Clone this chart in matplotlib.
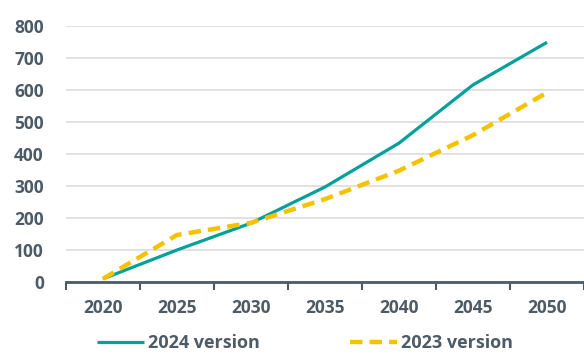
import numpy as np
import matplotlib
matplotlib.use("Agg")
import matplotlib.pyplot as plt

plt.rcParams['font.family'] = ['Open Sans', 'DejaVu Sans']

years = ['2020', '2025', '2030', '2035', '2040', '2045', '2050']
v2024 = [10, 100, 184, 297, 434, 616, 749]
v2023 = [10, 147, 185, 259, 348, 459, 592]

txt = '#4d5b66'
fig = plt.figure(figsize=(5.84, 3.54), dpi=100)
ax = fig.add_axes([66/584, 72/354, 518/584, 256/354])

x = np.arange(len(years))
ax.plot(x, v2024, color='#00a19a', lw=2.3, label='2024 version', solid_capstyle='butt')
ax.plot(x, v2023, color='#f5c200', lw=3.2, dashes=(2.8, 1.6), label='2023 version')

ax.set_xlim(-0.5, len(years) - 0.5)
ax.set_ylim(0, 800)
ax.set_yticks(range(0, 801, 100))
ax.set_xticks(x)
ax.set_xticklabels(years)
ax.set_xticks(np.arange(-0.5, len(years), 1), minor=True)
ax.tick_params(axis='x', which='major', length=0, pad=12)
ax.tick_params(axis='x', which='minor', length=6, width=1.5, color='#4d5b66')
ax.tick_params(axis='y', length=0, pad=16)
for lab in ax.get_xticklabels() + ax.get_yticklabels():
    lab.set_fontsize(12.5)
    lab.set_fontweight('bold')
    lab.set_color(txt)

ax.grid(axis='y', color='#dcdcdc', lw=1.2)
ax.set_axisbelow(True)
for s in ['top', 'right', 'left']:
    ax.spines[s].set_visible(False)
ax.spines['bottom'].set_color('#4d5b66')
ax.spines['bottom'].set_linewidth(2)
ax.spines['bottom'].set_zorder(5)

leg = fig.legend(loc='lower left', bbox_to_anchor=(81/584, -0.04), ncol=2, frameon=False,
                 handlelength=2.6, handletextpad=0.2, columnspacing=5.0,
                 prop={'size': 13, 'weight': 'bold'})
for t in leg.get_texts():
    t.set_color(txt)

fig.savefig('out.png', dpi=100)
